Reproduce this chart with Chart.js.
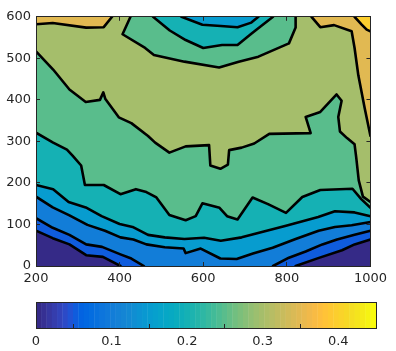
<!DOCTYPE html>
<html lang="en">

<head>
  <meta charset="UTF-8" />
  <title>contourf</title>
  <script src="https://cdn.jsdelivr.net/npm/chart.js"></script>
  <style>
    body { margin: 0; background: #fff; }
    #wrap { position: relative; width: 396px; height: 351px; }
    canvas { position: absolute; left: 0; }
  </style>
</head>

<body>
  <div id="wrap">
    <canvas id="contour" width="396" height="290" style="top:0"></canvas>
    <canvas id="cbar" width="396" height="61" style="top:290px"></canvas>
  </div>

  <script>
    // axis limits and ticks
    const xTicks = [200, 400, 600, 800, 1000];
    const yTicks = [0, 100, 200, 300, 400, 500, 600];
    const cbTicks = [0, 0.1, 0.2, 0.3, 0.4];
    const cmax = 0.45;

    // contour lines, [x, y]
    const c005a = [[200, 85], [240, 67], [280, 52], [320, 26], [360, 22], [402, 0]];
    const c005b = [[821, 0], [875, 19], [932, 38], [962, 52], [1000, 64]];
    const c010a = [[200, 115], [240, 92], [280, 75], [320, 52], [358, 46], [402, 28], [428, 18], [458, 0]];
    const c010b = [[767, 0], [805, 20], [845, 35], [885, 52], [920, 64], [962, 75], [1000, 85]];
    const c015 = [[200, 167], [240, 141], [280, 122], [323, 99], [365, 85], [402, 69], [433, 64], [464, 52],
      [508, 45], [553, 42], [558, 31], [594, 42], [641, 18], [680, 17], [719, 30], [766, 44], [821, 65],
      [876, 85], [915, 94], [955, 98], [1000, 106]];
    const c020 = [[200, 195], [241, 185], [278, 154], [319, 141], [357, 120], [400, 101], [431, 94], [468, 75],
      [508, 69], [555, 65], [602, 68], [642, 61], [692, 69], [722, 77], [798, 97], [875, 118], [915, 132],
      [962, 129], [1000, 120]];
    const c020top = [[548, 600], [598, 581], [642, 578], [682, 575], [715, 586], [732, 600]];
    const c025 = [[200, 321], [241, 297], [274, 280], [288, 265], [308, 242], [317, 195], [362, 195], [402, 173],
      [439, 185], [464, 178], [488, 165], [519, 123], [558, 110], [582, 120], [598, 151], [639, 140], [657, 120],
      [682, 112], [718, 165], [755, 149], [798, 128], [837, 166], [880, 183], [957, 186], [978, 161], [1000, 140]];
    const c025top = [[480, 600], [520, 567], [558, 544], [600, 525], [645, 532], [682, 532], [715, 559], [734, 574], [767, 600]];
    const c030 = [[200, 517], [241, 473], [280, 425], [319, 395], [353, 400], [361, 418], [366, 402], [398, 358],
      [428, 344], [468, 313], [485, 297], [519, 273], [558, 288], [614, 291], [617, 242], [641, 234], [659, 244],
      [662, 279], [692, 285], [722, 295], [758, 318], [857, 320], [845, 359], [880, 371], [919, 413], [931, 398],
      [923, 359], [927, 324], [944, 308], [962, 293], [966, 261], [972, 206], [982, 167], [1000, 154]];
    const c030top = [[426, 600], [407, 558], [461, 525], [482, 508], [555, 492], [638, 478], [685, 492], [732, 504],
      [805, 536], [821, 574], [821, 600]];
    const c035a = [[200, 582], [240, 585], [320, 574], [362, 575], [382, 600]];
    const c035b = [[859, 600], [880, 575], [913, 580], [955, 565], [962, 525], [971, 459], [986, 381], [1000, 313]];
    const c040 = [[962, 600], [979, 581], [991, 569], [1000, 565]];

    // parula, 64 entries
    const parula = ['#352a87', '#363093', '#3637a0', '#353dad', '#3243ba', '#2c4ac7', '#2053d4', '#0f5cdd',
      '#0363e1', '#0268e1', '#046de0', '#0871de', '#0d75dc', '#1079da', '#127dd8', '#1481d6',
      '#1485d4', '#1389d3', '#108ed2', '#0c93d2', '#0998d1', '#079ccf', '#06a0cd', '#06a4ca',
      '#06a7c6', '#07a9c2', '#0aacbe', '#0faeb9', '#15b1b4', '#1db3af', '#25b5a9', '#2eb7a4',
      '#38b99e', '#42bb98', '#4dbc92', '#59bd8c', '#65be86', '#71bf80', '#7cbf7b', '#87bf77',
      '#92bf73', '#9cbf6f', '#a5be6b', '#aebe67', '#b7bd64', '#c0bc60', '#c8bc5d', '#d1bb59',
      '#d9ba56', '#e1b952', '#e9b94e', '#f1b94a', '#f8bb44', '#fdbe3d', '#ffc337', '#fec832',
      '#fcce2e', '#fad32a', '#f7d826', '#f5de21', '#f5e41d', '#f5eb18', '#f6f313', '#f9fb0e'];

    const bandColor = v => parula[Math.min(parula.length - 1, Math.floor(v / cmax * parula.length + 1e-9))];

    const X0 = xTicks[0], X1 = xTicks[xTicks.length - 1];
    const Y0 = yTicks[0], Y1 = yTicks[yTicks.length - 1];
    const TL = [X0, Y1], TR = [X1, Y1], BL = [X0, Y0], BR = [X1, Y0];
    const rev = a => a.slice().reverse();

    // filled regions (value >= level), painted from low to high
    const regions = [
      { level: 0, polys: [[BL, TL, TR, BR]] },
      { level: 0.05, polys: [[TL, TR, ...rev(c005b), ...rev(c005a)]] },
      { level: 0.10, polys: [[TL, TR, ...rev(c010b), ...rev(c010a)]] },
      { level: 0.15, polys: [[TL, TR, ...rev(c015)]] },
      { level: 0.20, polys: [[...c020, TR, ...rev(c020top), TL]] },
      { level: 0.25, polys: [[...c025, TR, ...rev(c025top), TL]] },
      { level: 0.30, polys: [[...c030, TR, ...rev(c030top), TL]] },
      { level: 0.35, polys: [[...c035a, TL], [...c035b, TR]] },
      { level: 0.40, polys: [[...c040, TR]] }
    ];
    const contours = [c005a, c005b, c010a, c010b, c015, c020, c020top, c025, c025top, c030, c030top, c035a, c035b, c040];

    const toPts = a => a.map(p => ({ x: p[0], y: p[1] }));
    const datasets = [];
    regions.forEach((r, i) => {
      r.polys.forEach(poly => {
        datasets.push({
          data: toPts(poly),
          fill: 'shape',
          backgroundColor: bandColor(r.level),
          borderColor: 'transparent',
          borderWidth: 0,
          pointRadius: 0,
          order: 100 - i
        });
      });
    });
    contours.forEach(c => {
      datasets.push({
        data: toPts(c),
        fill: false,
        borderColor: '#000',
        borderWidth: 2.6,
        borderJoinStyle: 'round',
        borderCapStyle: 'round',
        pointRadius: 0,
        order: 0
      });
    });

    const axisColor = '#262626';
    const tickFont = { family: 'DejaVu Sans', size: 13 };
    const setTicks = vals => s => { s.ticks = vals.map(v => ({ value: v })); };

    function axis(position, min, max, vals, size, labels, inward) {
      const horiz = position === 'top' || position === 'bottom';
      return {
        type: 'linear',
        position: position,
        min: min,
        max: max,
        offset: false,
        afterBuildTicks: setTicks(vals),
        afterFit: s => { if (horiz) s.height = size; else s.width = size; },
        grid: { display: inward, drawOnChartArea: false, tickLength: -4, color: axisColor, z: 1 },
        border: { display: true, color: axisColor, width: 1, z: 1 },
        ticks: {
          display: labels,
          color: axisColor,
          font: tickFont,
          padding: 9,
          maxRotation: 0,
          autoSkip: false,
          callback: v => String(v)
        }
      };
    }

    new Chart(document.getElementById('contour'), {
      type: 'line',
      data: { datasets: datasets },
      options: {
        responsive: false,
        animation: false,
        devicePixelRatio: 1,
        events: [],
        layout: { padding: 0 },
        plugins: { legend: { display: false }, tooltip: { enabled: false } },
        scales: {
          x: axis('bottom', X0, X1, xTicks, 24, true, true),
          y: axis('left', Y0, Y1, yTicks, 36, true, true),
          x2: axis('top', X0, X1, xTicks, 11, false, true),
          y2: axis('right', Y0, Y1, yTicks, 20, false, true)
        }
      }
    });

    // colorbar: one cell per colormap entry
    const cbCells = parula.map((c, i) => ({ x: (i + 0.5) * cmax / parula.length, y: 1 }));

    const cbX = axis('bottom', 0, cmax, cbTicks, 23, true, true);
    cbX.ticks.padding = 10;
    new Chart(document.getElementById('cbar'), {
      type: 'bar',
      data: {
        datasets: [{
          data: cbCells,
          backgroundColor: parula,
          borderWidth: 0,
          barPercentage: 1.08,
          categoryPercentage: 1
        }]
      },
      options: {
        responsive: false,
        animation: false,
        devicePixelRatio: 1,
        events: [],
        layout: { padding: 0 },
        plugins: { legend: { display: false }, tooltip: { enabled: false } },
        scales: {
          x: cbX,
          y: axis('left', 0, 1, [0, 1], 36, false, false),
          x2: axis('top', 0, cmax, cbTicks, 12, false, false),
          y2: axis('right', 0, 1, [0, 1], 20, false, false)
        }
      }
    });
  </script>
</body>

</html>
